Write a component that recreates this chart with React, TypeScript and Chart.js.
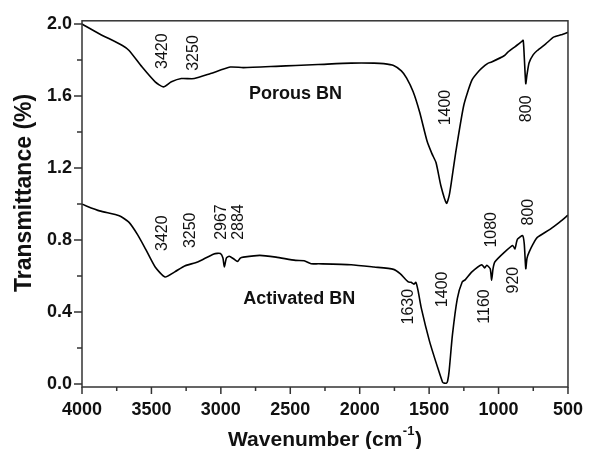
import React, { useEffect, useRef } from "react";
import { Chart, registerables } from "chart.js";

Chart.register(...registerables);

// ---- Data ----
const porousWn = [4000, 3873, 3709, 3661, 3567, 3473, 3414, 3356, 3285, 3191, 3074, 2933, 2838, 2603, 2462, 2300, 2062, 1897, 1827, 1756, 1700, 1662, 1615, 1568, 1515, 1480, 1450, 1415, 1375, 1356, 1340, 1309, 1250, 1192, 1140, 1098, 1074, 1050, 957, 933, 880, 839, 823, 815, 804, 795, 780, 750, 721, 660, 604, 550, 500];
const porousT = [2.0, 1.945, 1.881, 1.853, 1.761, 1.679, 1.651, 1.679, 1.697, 1.697, 1.725, 1.761, 1.758, 1.765, 1.77, 1.775, 1.783, 1.783, 1.78, 1.77, 1.74, 1.70, 1.624, 1.51, 1.35, 1.28, 1.229, 1.10, 1.004, 1.045, 1.12, 1.284, 1.55, 1.688, 1.74, 1.77, 1.783, 1.789, 1.825, 1.844, 1.875, 1.899, 1.91, 1.82, 1.669, 1.72, 1.785, 1.83, 1.853, 1.89, 1.927, 1.94, 1.954];

const activatedWn = [4000, 3873, 3732, 3661, 3600, 3543, 3473, 3402, 3332, 3261, 3167, 3050, 3003, 2985, 2975, 2960, 2940, 2909, 2880, 2860, 2838, 2720, 2603, 2462, 2400, 2350, 2297, 2062, 1897, 1756, 1709, 1650, 1630, 1610, 1595, 1580, 1556, 1497, 1438, 1403, 1391, 1375, 1367, 1356, 1332, 1297, 1262, 1239, 1192, 1121, 1100, 1085, 1060, 1050, 1040, 1027, 957, 898, 882, 870, 863, 827, 815, 804, 795, 780, 750, 721, 627, 560, 500];
const activatedT = [0.999, 0.962, 0.935, 0.898, 0.83, 0.751, 0.65, 0.595, 0.623, 0.656, 0.678, 0.723, 0.725, 0.70, 0.65, 0.70, 0.71, 0.696, 0.681, 0.70, 0.705, 0.715, 0.705, 0.687, 0.685, 0.668, 0.668, 0.663, 0.65, 0.637, 0.613, 0.567, 0.565, 0.555, 0.565, 0.52, 0.42, 0.237, 0.09, 0.01, 0.005, 0.005, 0.016, 0.072, 0.274, 0.475, 0.567, 0.58, 0.623, 0.663, 0.645, 0.66, 0.64, 0.577, 0.64, 0.678, 0.733, 0.77, 0.751, 0.79, 0.806, 0.825, 0.78, 0.641, 0.70, 0.733, 0.78, 0.815, 0.861, 0.90, 0.938];

const xTickValues = [4000, 3500, 3000, 2500, 2000, 1500, 1000, 500];
const xMinorValues = [3750, 3250, 2750, 2250, 1750, 1250, 750];
const yTickValues = [0.0, 0.4, 0.8, 1.2, 1.6, 2.0];
const yMinorValues = [0.2, 0.6, 1.0, 1.4, 1.8];

const peakText = ["3420", "3250", "1400", "800", "3420", "3250", "2967", "2884", "1630", "1400", "1160", "1080", "920", "800"];
const peakX = [3418, 3197, 1382, 800, 3418, 3220, 2997, 2869, 1645, 1405, 1103, 1053, 892, 784];
const peakY = [1.849, 1.839, 1.536, 1.529, 0.838, 0.854, 0.9, 0.9, 0.43, 0.526, 0.431, 0.857, 0.577, 0.955];

const seriesNames = ["Porous BN", "Activated BN"];
const seriesLabelX = [2462, 2435];
const seriesLabelY = [1.61, 0.475];

const FONT = "'Liberation Sans', Arial, sans-serif";

const decorPlugin = {
  id: "decor",
  afterDraw(chart: any) {
    const ctx = chart.ctx;
    const area = chart.chartArea;
    const xs = chart.scales.x;
    const ys = chart.scales.y;
    ctx.save();
    // frame
    ctx.strokeStyle = "#333";
    ctx.lineWidth = 1.5;
    ctx.strokeRect(area.left, area.top, area.right - area.left, area.bottom - area.top);
    // ticks
    ctx.beginPath();
    xTickValues.forEach((v) => {
      const px = xs.getPixelForValue(v);
      ctx.moveTo(px, area.bottom);
      ctx.lineTo(px, area.bottom + 7);
    });
    xMinorValues.forEach((v) => {
      const px = xs.getPixelForValue(v);
      ctx.moveTo(px, area.bottom);
      ctx.lineTo(px, area.bottom + 4);
    });
    yTickValues.forEach((v) => {
      const py = ys.getPixelForValue(v);
      ctx.moveTo(area.left, py);
      ctx.lineTo(area.left - 8, py);
    });
    yMinorValues.forEach((v) => {
      const py = ys.getPixelForValue(v);
      ctx.moveTo(area.left, py);
      ctx.lineTo(area.left - 5, py);
    });
    ctx.stroke();

    // peak annotations (rotated)
    ctx.fillStyle = "#111";
    ctx.font = `16px ${FONT}`;
    ctx.textAlign = "center";
    ctx.textBaseline = "middle";
    peakText.forEach((t, i) => {
      const px = xs.getPixelForValue(peakX[i]);
      const py = ys.getPixelForValue(peakY[i]);
      ctx.save();
      ctx.translate(px, py);
      ctx.rotate(-Math.PI / 2);
      ctx.fillText(t, 0, 0);
      ctx.restore();
    });

    // series labels
    ctx.font = `bold 18px ${FONT}`;
    seriesNames.forEach((t, i) => {
      ctx.fillText(t, xs.getPixelForValue(seriesLabelX[i]), ys.getPixelForValue(seriesLabelY[i]));
    });

    // y title
    ctx.save();
    ctx.font = `bold 23px ${FONT}`;
    ctx.translate(25, (area.top + area.bottom) / 2 - 11);
    ctx.rotate(-Math.PI / 2);
    ctx.fillText("Transmittance (%)", 0, 0);
    ctx.restore();

    // x title with superscript
    const base = "Wavenumber (cm";
    const sup = "-1";
    const tail = ")";
    ctx.textBaseline = "alphabetic";
    ctx.textAlign = "left";
    ctx.font = `bold 21px ${FONT}`;
    const wBase = ctx.measureText(base).width;
    const wTail = ctx.measureText(tail).width;
    ctx.font = `bold 13px ${FONT}`;
    const wSup = ctx.measureText(sup).width;
    const total = wBase + wSup + 1 + wTail;
    const cx = (area.left + area.right) / 2;
    let x0 = cx - total / 2;
    const yb = 446;
    ctx.font = `bold 21px ${FONT}`;
    ctx.fillText(base, x0, yb);
    ctx.font = `bold 13px ${FONT}`;
    ctx.fillText(sup, x0 + wBase + 0.5, yb - 11);
    ctx.font = `bold 21px ${FONT}`;
    ctx.fillText(tail, x0 + wBase + wSup + 1, yb);
    ctx.restore();
  },
};

export default function App() {
  const ref = useRef<HTMLCanvasElement | null>(null);
  useEffect(() => {
    if (!ref.current) return;
    const chart = new Chart(ref.current, {
      type: "line",
      data: {
        datasets: [
          {
            label: seriesNames[0],
            data: porousWn.map((x, i) => ({ x, y: porousT[i] })),
            borderColor: "#000",
            borderWidth: 1.6,
            pointRadius: 0,
            tension: 0.2,
            fill: false,
          },
          {
            label: seriesNames[1],
            data: activatedWn.map((x, i) => ({ x, y: activatedT[i] })),
            borderColor: "#000",
            borderWidth: 1.6,
            pointRadius: 0,
            tension: 0.2,
            fill: false,
          },
        ],
      },
      options: {
        animation: false,
        responsive: false,
        maintainAspectRatio: false,
        devicePixelRatio: 1,
        layout: { padding: { top: 17, right: 17, left: 0, bottom: 0 } },
        plugins: { legend: { display: false }, tooltip: { enabled: false } },
        scales: {
          x: {
            type: "linear",
            reverse: true,
            min: 500,
            max: 4000,
            border: { display: false },
            grid: { display: false, drawTicks: false },
            afterFit: (s: any) => {
              s.height = 62;
            },
            afterBuildTicks: (s: any) => {
              s.ticks = xTickValues.map((v) => ({ value: v }));
            },
            ticks: {
              padding: 12,
              color: "#111",
              font: { family: FONT, size: 18, weight: "bold" },
              callback: (v: any) => String(v),
            },
          },
          y: {
            type: "linear",
            min: -0.0165,
            max: 2.018,
            border: { display: false },
            grid: { display: false, drawTicks: false },
            afterFit: (s: any) => {
              s.width = 82;
            },
            afterBuildTicks: (s: any) => {
              s.ticks = yTickValues.map((v) => ({ value: v }));
            },
            ticks: {
              padding: 10,
              color: "#111",
              font: { family: FONT, size: 18, weight: "bold" },
              callback: (v: any) => Number(v).toFixed(1),
            },
          },
        },
      },
      plugins: [decorPlugin],
    });
    return () => chart.destroy();
  }, []);
  return (
    <div style={{ position: "fixed", left: 0, top: 0, width: 595, height: 449, background: "#fff" }}>
      <canvas ref={ref} width={595} height={449} style={{ width: 595, height: 449 }} />
    </div>
  );
}
